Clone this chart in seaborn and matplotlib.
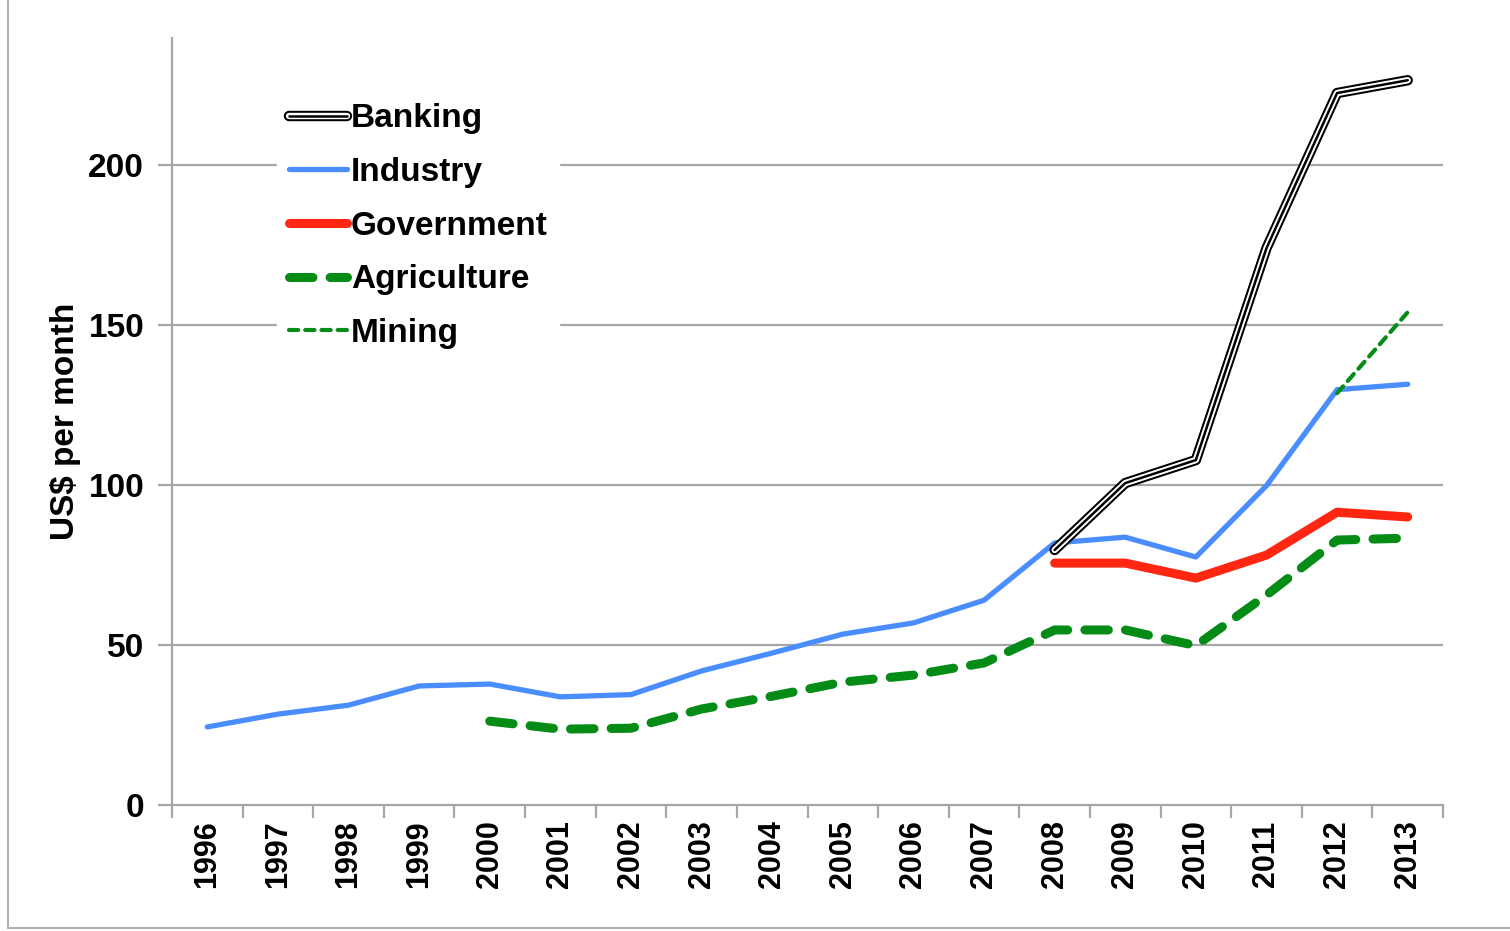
import numpy as np
import pandas as pd
import matplotlib
matplotlib.use("Agg")
import matplotlib.pyplot as plt
import matplotlib.patheffects as pe
from matplotlib.lines import Line2D
import seaborn as sns

years = [str(y) for y in range(1996, 2014)]
nan = np.nan
industry = [24.4, 28.4, 31.2, 37.2, 37.8, 33.8, 34.5, 41.9, 47.5, 53.4, 56.9, 64.0,
            81.9, 83.7, 77.5, 99.8, 129.8, 131.5]
agriculture = [nan, nan, nan, nan, 26.2, 23.7, 24.0, 30.0, 34.0, 38.4, 40.6, 44.4,
               54.7, 54.7, 49.8, 65.6, 82.8, 83.4]
government = [nan] * 12 + [75.6, 75.6, 70.9, 78.1, 91.5, 90.0]
banking = [nan] * 12 + [79.7, 100.6, 107.8, 174.0, 222.5, 226.5]
mining = [nan] * 16 + [128.7, 154.0]
yticks = [0, 50, 100, 150, 200]

sns.set_theme(style="white")
plt.rcParams['font.family'] = ['Liberation Sans', 'DejaVu Sans']
plt.rcParams['font.weight'] = 'bold'
plt.rcParams['text.color'] = 'black'
plt.rcParams['axes.labelcolor'] = 'black'
plt.rcParams['xtick.color'] = 'black'
plt.rcParams['ytick.color'] = 'black'

fig = plt.figure(figsize=(15.10, 9.31), dpi=100)
ax = fig.add_axes([172 / 1510, 1 - 805 / 931, (1443 - 172) / 1510, (805 - 38) / 931])

x = np.arange(len(years))
df = pd.DataFrame({"x": x, "Banking": banking, "Industry": industry,
                   "Government": government, "Agriculture": agriculture,
                   "Mining": mining})

grid_c = "#a6a6a6"
for v in yticks[1:]:
    ax.axhline(v, color=grid_c, lw=1.6, zorder=0)

sns.lineplot(data=df, x="x", y="Banking", ax=ax, color="black", lw=1.8,
             label="Banking", zorder=5,
             path_effects=[pe.Stroke(linewidth=7.5, foreground="black"),
                           pe.Stroke(linewidth=4.6, foreground="white"),
                           pe.Normal()])
sns.lineplot(data=df, x="x", y="Industry", ax=ax, color="#4A8DFF", lw=3.8,
             label="Industry", zorder=3)
sns.lineplot(data=df, x="x", y="Government", ax=ax, color="#FF2712", lw=6.5,
             label="Government", zorder=3)
sns.lineplot(data=df, x="x", y="Agriculture", ax=ax, color="#058C17", lw=6.5,
             label="Agriculture", zorder=3)
sns.lineplot(data=df, x="x", y="Mining", ax=ax, color="#058C17", lw=3.0,
             label="Mining", zorder=4)

for ln in ax.get_lines():
    lab = ln.get_label()
    if lab == "Agriculture":
        ln.set_linestyle((0, (2.6, 1.9)))
        ln.set_dash_capstyle("round")
    elif lab == "Mining":
        ln.set_linestyle((0, (2.2, 1.7)))
        ln.set_dash_capstyle("round")
    elif lab in ("Industry", "Government"):
        ln.set_solid_capstyle("round")

ax.set_xlim(-0.5, len(years) - 0.5)
ax.set_ylim(0, 239.7)
ax.set_xticks(x)
ax.set_xticklabels(years, rotation=90, fontsize=22, fontweight="bold")
ax.set_xticks(np.arange(-0.5, len(years)), minor=True)
ax.tick_params(axis="x", which="major", length=0, pad=11, labelcolor="black")
ax.tick_params(axis="x", which="minor", length=9, width=1.6, color=grid_c,
               direction="out", bottom=True)
ax.set_yticks(yticks)
ax.set_yticklabels([str(v) for v in yticks], fontsize=24, fontweight="bold")
ax.tick_params(axis="y", which="major", length=10, width=1.6, color=grid_c,
               direction="out", left=True, pad=10, labelcolor="black")
ax.set_xlabel("")
ax.set_ylabel("US$ per month", fontsize=24, fontweight="bold", color="black")
ax.yaxis.set_label_coords(-0.0715, 0.5)

for s in ["top", "right"]:
    ax.spines[s].set_visible(False)
for s in ["left", "bottom"]:
    ax.spines[s].set_color(grid_c)
    ax.spines[s].set_linewidth(1.6)

leg = ax.legend(loc="upper left", bbox_to_anchor=(0.083, 0.93), frameon=True,
                handlelength=1.75, handletextpad=0.1,
                labelspacing=0.68, borderpad=0.35, borderaxespad=0,
                prop={"weight": "bold", "size": 24})
leg.get_frame().set_facecolor("white")
leg.get_frame().set_edgecolor("white")
leg.get_frame().set_alpha(1)
leg.set_zorder(10)
for t in leg.get_texts():
    t.set_color("black")

fig.add_artist(Line2D([8 / 1510, 8 / 1510], [3 / 931, 1], color="#b0b0b0", lw=1.5,
                      transform=fig.transFigure))
fig.add_artist(Line2D([8 / 1510, 1], [3 / 931, 3 / 931], color="#b0b0b0", lw=1.5,
                      transform=fig.transFigure))

fig.savefig("out.png", dpi=100, facecolor="white")
